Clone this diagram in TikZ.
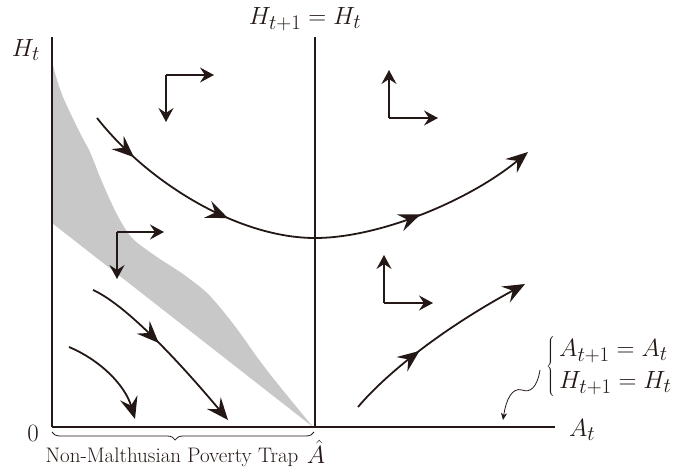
\documentclass[tikz,border=0pt]{standalone}
\usetikzlibrary{arrows.meta,decorations.markings,decorations.pathreplacing}
\definecolor{ink}{RGB}{35,24,21}
\definecolor{trapgray}{RGB}{200,200,200}
\begin{document}
\begin{tikzpicture}[x=1pt,y=-1pt,
  every node/.style={font=\fontsize{24.88}{29}\selectfont, text=ink, inner sep=0pt},
  txt/.style={font=\fontsize{21}{25}\selectfont},
  traj/.style={line width=1.8pt, draw=ink},
  endarrow/.style={-{Stealth[length=22pt,width=18pt,inset=8pt]}},
  lar/.style={line width=1.4pt, draw=ink, -{Stealth[length=14pt,width=15pt,inset=5pt]}},
  midarrows/.style={postaction={decorate}, decoration={markings, #1}},
]
\useasboundingbox (0,0) rectangle (678,471);

% shaded region
\fill[trapgray] plot[smooth] coordinates {(52,60) (55,73) (63,97) (80,133) (90,152) (100,177) (110,200) (120,220) (133,239) (157,257) (183,274) (206,292) (223,311) (240,333) (257,357) (273,378) (290,399) (313,427)}
  -- (52,223) -- cycle;

% axes
\coordinate (O) at (52,427);
\coordinate (Ytop) at (52,37);
\coordinate (Xend) at (555,427);
\coordinate (Vtop) at (315,37);
\coordinate (Vbot) at (315,427);
\draw[ink, line width=1.2pt] (O) -- (Ytop);
\draw[ink, line width=2.4pt] (O) -- (Xend);
\draw[ink, line width=1.8pt] (Vbot) -- (Vtop);

% labels
\node (lH) at (26,50) {$H_t$};
\node (lHH) at (305,19) {$H_{t+1}=H_t$};
\node (l0) at (33,433) {$0$};
\node[anchor=west] (lA) at (569,430) {$A_t$};
\node[txt] (trap) at (172,457) {Non-Malthusian Poverty Trap};
\node (Ahat) at (316,452) {$\hat{A}$};
\node[anchor=west] (sys) at (546,366) {$\left\{\,\renewcommand{\arraystretch}{1.1}\begin{array}{@{}l@{}}A_{t+1}=A_t\\ H_{t+1}=H_t\end{array}\right.$};

% brace under axis
\coordinate (bl) at (52,432);
\coordinate (br) at (314,432);
\draw[ink, line width=0.8pt, decorate, decoration={brace, amplitude=8pt, mirror, aspect=0.47}] (bl) -- (br);

% squiggle pointer
\coordinate (s1) at (540,370);
\coordinate (s2) at (522,390);
\coordinate (s3) at (503,420);
\draw[ink, line width=0.8pt, -{Stealth[length=7pt,width=6pt,inset=2pt]}] (s1) .. controls (537,388) and (530,393) .. (s2) .. controls (512,387) and (506,400) .. (s3);

% main trajectory
\coordinate (m1) at (97,118);
\coordinate (m2) at (315,238);
\coordinate (m3) at (528,152);
\draw[traj, endarrow, midarrows={mark=at position 0.11 with {\arrow{Stealth[length=22pt,width=18pt,inset=8pt]}}, mark=at position 0.34 with {\arrow{Stealth[length=22pt,width=18pt,inset=8pt]}}, mark=at position 0.745 with {\arrow{Stealth[length=22pt,width=18pt,inset=8pt]}}}]
  (m1) .. controls (150,185) and (240,238) .. (m2) .. controls (380,238) and (470,200) .. (m3);

% lower-left trajectories
\coordinate (a1) at (93,290);
\coordinate (a2) at (228,420);
\draw[traj, endarrow, midarrows={mark=at position 0.45 with {\arrow{Stealth[length=22pt,width=18pt,inset=8pt]}}}]
  (a1) .. controls (120,302) and (165,345) .. (a2);
\coordinate (b1) at (69,347);
\coordinate (b2) at (135,419);
\draw[traj, endarrow] (b1) .. controls (100,360) and (125,385) .. (b2);

% lower-right trajectory
\coordinate (c1) at (358,407);
\coordinate (c2) at (525,284);
\draw[traj, endarrow, midarrows={mark=at position 0.40 with {\arrow{Stealth[length=22pt,width=18pt,inset=8pt]}}}]
  (c1) .. controls (385,375) and (440,330) .. (c2);

% phase arrows (L shapes)
\coordinate (L1) at (166,75);
\coordinate (L1r) at (214,75);
\coordinate (L1d) at (166,122);
\draw[lar] (L1) -- (L1r);
\draw[lar] (L1) -- (L1d);

\coordinate (L2) at (389,118);
\coordinate (L2r) at (438,118);
\coordinate (L2u) at (389,70);
\draw[lar] (L2) -- (L2r);
\draw[lar] (L2) -- (L2u);

\coordinate (L3) at (117,232);
\coordinate (L3r) at (164,232);
\coordinate (L3d) at (117,279);
\draw[lar] (L3) -- (L3r);
\draw[lar] (L3) -- (L3d);

\coordinate (L4) at (384,303);
\coordinate (L4r) at (433,303);
\coordinate (L4u) at (384,255);
\draw[lar] (L4) -- (L4r);
\draw[lar] (L4) -- (L4u);
\end{tikzpicture}
\end{document}
